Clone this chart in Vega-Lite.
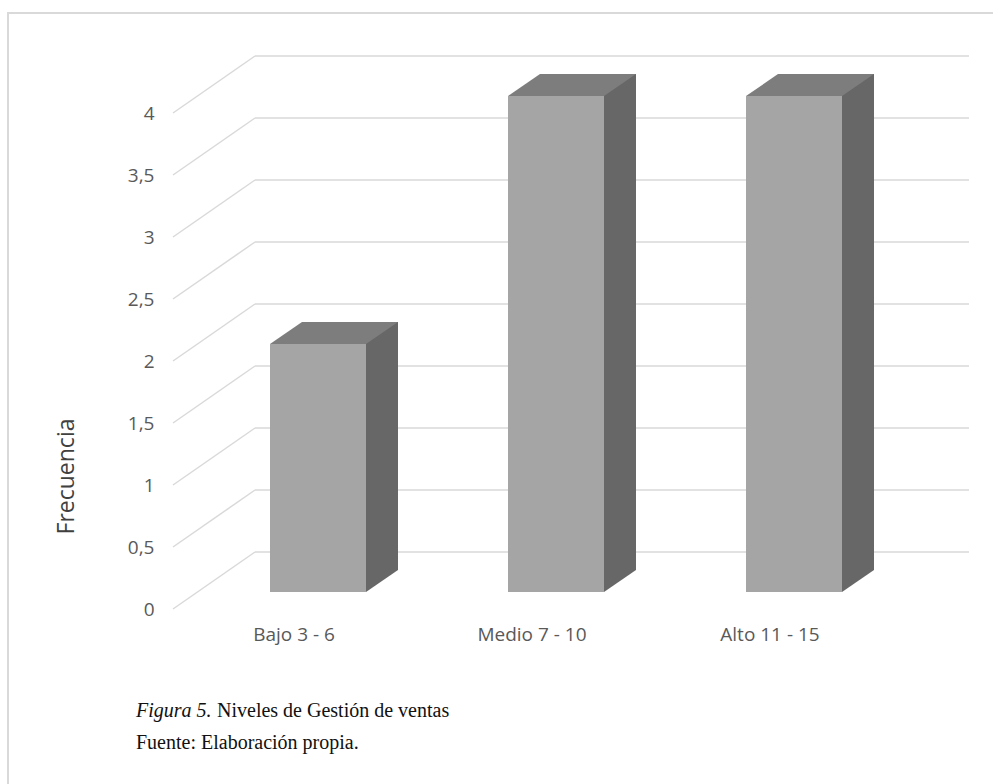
{
  "$schema": "https://vega.github.io/schema/vega-lite/v6.json",
  "width": 714,
  "height": 496,
  "autosize": {"type": "none"},
  "padding": {"left": 173, "top": 113, "right": 106, "bottom": 175},
  "background": "white",
  "config": {"view": {"stroke": null}, "font": "Open Sans"},
  "datasets": {
    "niveles": [
      {"nivel": "Bajo 3 - 6", "frecuencia": 2},
      {"nivel": "Medio 7 - 10", "frecuencia": 4},
      {"nivel": "Alto 11 - 15", "frecuencia": 4}
    ],
    "marcas": [
      {"v": 0}, {"v": 0.5}, {"v": 1}, {"v": 1.5}, {"v": 2},
      {"v": 2.5}, {"v": 3}, {"v": 3.5}, {"v": 4}
    ]
  },
  "layer": [
    {
      "data": {"values": [{}]},
      "mark": {"type": "rect", "fill": null, "stroke": "#d9d9d9", "strokeWidth": 2},
      "encoding": {
        "x": {"value": -165},
        "x2": {"value": 900},
        "y": {"value": -100},
        "y2": {"value": 800}
      }
    },
    {
      "data": {"name": "marcas"},
      "mark": {"type": "rule", "color": "#d9d9d9", "strokeWidth": 1.5, "yOffset": -57},
      "encoding": {
        "x": {"value": 82},
        "x2": {"value": 796},
        "y": {"field": "v", "type": "quantitative", "scale": {"domain": [0, 4], "nice": false}}
      }
    },
    {
      "data": {"name": "marcas"},
      "mark": {"type": "rule", "color": "#d9d9d9", "strokeWidth": 1.5, "y2Offset": -57},
      "encoding": {
        "x": {"value": 0},
        "x2": {"value": 82},
        "y": {"field": "v", "type": "quantitative", "scale": {"domain": [0, 4], "nice": false}},
        "y2": {"field": "v"}
      }
    },
    {
      "data": {"name": "niveles"},
      "layer": [
        {
          "mark": {"type": "bar", "width": 96, "xOffset": 26, "yOffset": -17, "y2Offset": -17, "color": "#a5a5a5"},
          "encoding": {
            "x": {
              "field": "nivel", "type": "nominal", "sort": null,
              "scale": {"paddingInner": 0.6, "paddingOuter": 0.3},
              "axis": {
                "title": null, "ticks": false, "domain": false, "labelAngle": 0,
                "labelFontSize": 19, "labelColor": "#595959", "labelPadding": 16, "labelOffset": 2
              }
            },
            "y": {
              "field": "frecuencia", "type": "quantitative",
              "scale": {"domain": [0, 4], "nice": false},
              "axis": {
                "values": [0, 0.5, 1, 1.5, 2, 2.5, 3, 3.5, 4],
                "labelExpr": "replace(format(datum.value, '~g'), '.', ',')",
                "ticks": false, "domain": false, "grid": false,
                "labelPadding": 19, "labelFontSize": 19, "labelColor": "#595959",
                "title": "Frecuencia", "titleFontSize": 23, "titleFontWeight": "normal",
                "titleColor": "#404040", "titleX": -107, "titleY": 363, "titleAngle": -90,
                "titleAlign": "center", "titleBaseline": "middle"
              }
            },
            "y2": {"datum": 0}
          }
        },
        {
          "mark": {"type": "bar", "width": 32, "xOffset": 90, "yOffset": -39, "y2Offset": -39, "color": "#676767"},
          "encoding": {
            "x": {"field": "nivel", "type": "nominal", "sort": null},
            "y": {"field": "frecuencia", "type": "quantitative", "scale": {"domain": [0, 4], "nice": false}},
            "y2": {"datum": 0}
          }
        },
        {
          "mark": {
            "type": "point", "filled": true, "opacity": 1, "color": "#676767", "strokeWidth": 0,
            "shape": "M -1 -0.6875 L 1 -0.6875 L -1 0.6875 Z", "size": 1024,
            "xOffset": 90, "yOffset": -28
          },
          "encoding": {
            "x": {"field": "nivel", "type": "nominal", "sort": null},
            "y": {"datum": 0, "type": "quantitative", "scale": {"domain": [0, 4], "nice": false}}
          }
        },
        {
          "mark": {
            "type": "point", "filled": true, "opacity": 1, "color": "#7d7d7d", "strokeWidth": 0,
            "shape": "M -1 0.171875 L 0.5 0.171875 L 1 -0.171875 L -0.5 -0.171875 Z", "size": 16384,
            "xOffset": 42, "yOffset": -28
          },
          "encoding": {
            "x": {"field": "nivel", "type": "nominal", "sort": null},
            "y": {"field": "frecuencia", "type": "quantitative", "scale": {"domain": [0, 4], "nice": false}}
          }
        }
      ]
    },
    {
      "data": {"values": [{}]},
      "mark": {"type": "text", "text": "Figura 5.", "font": "Liberation Serif", "fontSize": 20, "fontStyle": "italic", "align": "left", "baseline": "alphabetic", "color": "#111111"},
      "encoding": {"x": {"value": -37}, "y": {"value": 604}}
    },
    {
      "data": {"values": [{}]},
      "mark": {"type": "text", "text": "Niveles de Gestión de ventas", "font": "Liberation Serif", "fontSize": 20, "align": "left", "baseline": "alphabetic", "color": "#111111"},
      "encoding": {"x": {"value": 44}, "y": {"value": 604}}
    },
    {
      "data": {"values": [{}]},
      "mark": {"type": "text", "text": "Fuente: Elaboración propia.", "font": "Liberation Serif", "fontSize": 20, "align": "left", "baseline": "alphabetic", "color": "#111111"},
      "encoding": {"x": {"value": -37}, "y": {"value": 636}}
    }
  ]
}
